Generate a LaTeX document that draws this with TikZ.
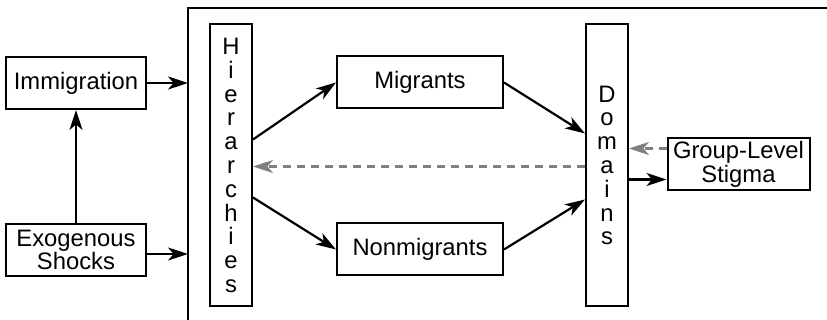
\documentclass[tikz,border=0pt]{standalone}
\usepackage{fontspec}
\setmainfont{Liberation Sans}
\usetikzlibrary{arrows.meta}
\begin{document}
\begin{tikzpicture}[x=0.5pt,y=-0.5pt,
    scatola/.style={draw,line width=1pt,inner sep=0pt,align=center,
      font=\fontsize{11.9pt}{11.9pt}\selectfont},
    freccia/.style={line width=1.1pt,-{Stealth[length=10pt,width=6.5pt,inset=2.8pt]}},
    tratteggio/.style={freccia,black!50,dash pattern=on 4pt off 3pt}]
      \useasboundingbox (0,0) rectangle (827,320);
      %riquadro
      \draw[line width=1pt] (830,8) -- (188,8) -- (188,325);
      \coordinate (fr1) at (188,83);
      \coordinate (fr2) at (188,254);
      %nodi
      \node[scatola,minimum width=70pt,minimum height=26pt] (imm) at (76,83) {Immigration};
      \node[scatola,minimum width=70pt,minimum height=26pt] (exo) at (76,250) {Exogenous\\Shocks};
      \node[scatola,minimum width=21pt,minimum height=141pt] (hier) at (231,165.5)
         {H\\i\\e\\r\\a\\r\\c\\h\\i\\e\\s};
      \node[scatola,minimum width=83pt,minimum height=26pt] (mig) at (420,82.5) {Migrants};
      \node[scatola,minimum width=83pt,minimum height=26pt] (non) at (420,249.5) {Nonmigrants};
      \node[scatola,minimum width=21pt,minimum height=141pt] (dom) at (607,165.5)
         {D\\o\\m\\a\\i\\n\\s};
      \node[scatola,minimum width=71pt,minimum height=26pt] (stig) at (738.5,164.5) {Group-Level\\Stigma};
      %frecce
      \draw[freccia] (imm.east) -- (fr1);
      \draw[freccia] (exo.east |- fr2) -- (fr2);
      \draw[freccia] (exo.north) -- (imm.south);
      \draw[freccia] ([yshift=13pt]hier.east) -- (mig.west);
      \draw[freccia] ([yshift=-16pt]hier.east) -- (non.west);
      \draw[freccia] (mig.east) -- ([yshift=16pt]dom.west);
      \draw[freccia] (non.east) -- ([yshift=-17pt]dom.west);
      %ritorni
      \draw[tratteggio] ([yshift=-0.5pt]dom.west) -- ([yshift=-0.5pt]hier.east);
      \draw[tratteggio] ([yshift=8pt]stig.west) coordinate (s1) -- (dom.east |- s1);
      \draw[freccia] ([yshift=-7pt]dom.east) coordinate (d1) -- (stig.west |- d1);
\end{tikzpicture}
\end{document}
